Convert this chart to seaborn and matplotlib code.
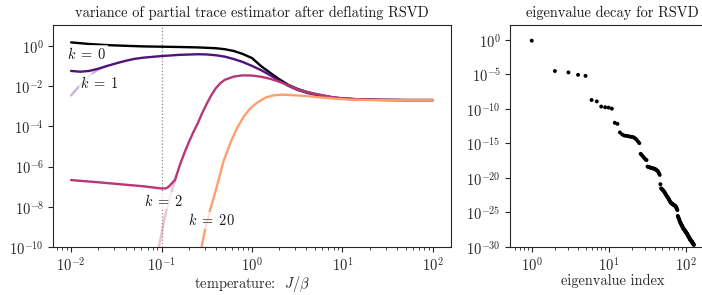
import numpy as np
import pandas as pd
import matplotlib
matplotlib.use("Agg")
import matplotlib.pyplot as plt
import matplotlib.ticker as mticker
import seaborn as sns

# ---------------- data ----------------
# left panel: log10 temperature and log10 variance per curve
k0_logT = [-2.0, -1.8, -1.6, -1.4, -1.2, -1.0, -0.8, -0.6, -0.4, -0.3, -0.2, -0.1, 0.0,
           0.1, 0.2, 0.3, 0.4, 0.5, 0.6, 0.7, 0.8, 0.9, 1.0, 1.2, 1.4, 1.7, 2.0]
k0_logV = [0.18, 0.10, 0.045, 0.01, -0.02, -0.035, -0.05, -0.07, -0.11, -0.16, -0.25, -0.4, -0.6,
           -1.0, -1.33, -1.65, -1.93, -2.13, -2.28, -2.39, -2.48, -2.56, -2.61, -2.66, -2.68, -2.69, -2.69]

k1_logT = [-2.0, -1.9, -1.8, -1.7, -1.6, -1.5, -1.4, -1.3, -1.2, -1.0, -0.8, -0.6, -0.5, -0.4,
           -0.3, -0.2, -0.1, 0.0, 0.1, 0.2, 0.3, 0.4, 0.5, 0.6, 0.7, 0.8, 0.9, 1.0, 1.2, 1.4, 1.7, 2.0]
k1_logV = [-1.24, -1.28, -1.24, -1.13, -0.99, -0.86, -0.74, -0.64, -0.58, -0.50, -0.44, -0.41, -0.42, -0.46,
           -0.53, -0.65, -0.8, -0.99, -1.2, -1.45, -1.72, -1.98, -2.18, -2.32, -2.43, -2.52, -2.58, -2.62, -2.66, -2.68, -2.69, -2.69]
k1f_logT = [-2.0, -1.95, -1.9, -1.85, -1.8, -1.75, -1.7, -1.65, -1.6]
k1f_logV = [-2.46, -2.2, -1.96, -1.72, -1.50, -1.32, -1.18, -1.06, -0.99]

k2_logT = [-2.0, -1.7, -1.4, -1.2, -1.0, -0.95, -0.92, -0.89, -0.852, -0.8, -0.75, -0.7, -0.65,
           -0.6, -0.55, -0.5, -0.45, -0.4, -0.35, -0.3, -0.2, -0.1, 0.0, 0.1, 0.2, 0.3, 0.4, 0.5,
           0.6, 0.7, 0.8, 0.9, 1.0, 1.2, 1.4, 1.7, 2.0]
k2_logV = [-6.67, -6.78, -6.9, -6.98, -7.09, -7.08, -7.0, -6.85, -6.67, -5.95, -5.35, -4.8, -4.3,
           -3.85, -3.33, -2.87, -2.45, -2.1, -1.85, -1.68, -1.52, -1.46, -1.47, -1.53, -1.63, -1.78, -1.95, -2.15,
           -2.28, -2.38, -2.47, -2.55, -2.6, -2.66, -2.68, -2.69, -2.69]
k2f_logT = [-1.045, -1.027, -1.0, -0.963, -0.927, -0.889, -0.86, -0.833]
k2f_logV = [-10.5, -9.95, -9.32, -8.49, -7.83, -7.25, -6.83, -6.45]

k20_logT = [-0.575, -0.556, -0.519, -0.463, -0.389, -0.316, -0.241, -0.167, -0.093, -0.019, 0.056,
            0.148, 0.24, 0.333, 0.426, 0.611, 0.74, 0.907, 1.1, 1.3, 1.6, 2.0]
k20_logV = [-10.6, -9.95, -9.15, -8.16, -7.0, -5.75, -4.84, -4.10, -3.52, -3.10, -2.82,
            -2.57, -2.45, -2.42, -2.44, -2.49, -2.55, -2.62, -2.67, -2.69, -2.70, -2.70]

curve_labels = [r"$k\;=\;0$", r"$k\;=\;1$", r"$k\;=\;2$", r"$k\;=\;20$"]
label_logT = [-1.824, -1.691, -0.98, -0.452]
label_logV = [-0.373, -1.816, -7.69, -8.68]

# right panel: eigenvalue index and log10 eigenvalue
eig_index = list(range(1, 129))
eig_log10 = [-0.1, -4.5, -4.7, -5.05, -5.2, -8.7, -8.9, -9.65, -9.75, -9.8, -9.95, -12.0, -12.15,
             -13.4, -13.7, -13.85, -13.9, -13.95, -14.0, -14.05, -14.1, -14.25, -14.45, -14.7, -14.95,
             -16.5, -16.7, -16.9, -17.1, -17.3, -17.4,
             -18.35, -18.4, -18.45, -18.5, -18.55, -18.58, -18.62, -18.66, -18.7, -18.78, -18.88, -18.98,
             -19.08, -19.3, -19.55,
             -20.9, -21.5, -21.6,
             -21.7, -21.8, -21.9, -22.05, -22.2, -22.35, -22.5, -22.65, -22.75, -22.85, -23.0, -23.15,
             -23.3, -23.45, -23.55, -23.65, -23.7, -23.75, -23.8, -23.85, -23.9, -23.95, -24.0, -24.05,
             -24.1, -24.2, -24.35, -24.5, -24.65,
             -25.5, -25.65, -25.8, -25.95, -26.1, -26.3, -26.42, -26.53, -26.64, -26.75,
             -26.86, -26.97, -27.08, -27.19, -27.3, -27.37, -27.44, -27.51, -27.58, -27.65,
             -27.72, -27.79, -27.86, -27.93, -28.0, -28.08, -28.16, -28.24, -28.32, -28.4,
             -28.48, -28.56, -28.64, -28.72, -28.8, -28.88, -28.94, -29.0, -29.05, -29.1,
             -29.16, -29.22, -29.28, -29.34, -29.4, -29.46, -29.52, -29.58, -29.64, -29.7]

# ---------------- style ----------------
FS = 10.4
sns.set_theme(style="ticks")
plt.rcParams.update({
    "font.family": ["cmr10", "DejaVu Serif"],
    "mathtext.fontset": "cm",
    "axes.formatter.use_mathtext": True,
    "font.size": FS,
    "axes.titlesize": FS,
    "axes.labelsize": FS,
    "xtick.labelsize": FS,
    "ytick.labelsize": FS,
    "axes.edgecolor": "0.15",
    "axes.linewidth": 0.8,
    "xtick.major.size": 3.5,
    "xtick.minor.size": 2.0,
    "ytick.major.size": 3.5,
    "ytick.minor.size": 2.0,
    "xtick.major.width": 0.8,
    "xtick.minor.width": 0.6,
    "ytick.major.width": 0.8,
    "xtick.major.pad": 2.5,
    "ytick.major.pad": 3.0,
    "xtick.color": "0.15",
    "ytick.color": "0.15",
    "text.color": "0.1",
})

cmap = plt.get_cmap("magma")
colors = [cmap(0.0), cmap(0.25), cmap(0.5), cmap(0.8)]

W, H = 702, 295
fig = plt.figure(figsize=(W / 100, H / 100), dpi=100)
ax1 = fig.add_axes([53 / W, 48 / H, 398 / W, 222 / H])
ax2 = fig.add_axes([510 / W, 48 / H, 205.6 / W, 222 / H])


def frame(logT, logV):
    return pd.DataFrame({"T": np.power(10.0, logT), "V": np.power(10.0, logV)})


lw = 1.7
ax1.axvline(0.1, color="0.55", ls=":", lw=0.9, zorder=1)
faded = [(k1f_logT, k1f_logV, colors[1]), (k2f_logT, k2f_logV, colors[2])]
for lt, lv, c in faded:
    sns.lineplot(data=frame(lt, lv), x="T", y="V", ax=ax1, color=c, alpha=0.3, lw=lw,
                 sort=False, estimator=None, zorder=2)
solid = [(k0_logT, k0_logV), (k1_logT, k1_logV), (k2_logT, k2_logV), (k20_logT, k20_logV)]
for (lt, lv), c in zip(solid, colors):
    sns.lineplot(data=frame(lt, lv), x="T", y="V", ax=ax1, color=c, lw=lw,
                 sort=False, estimator=None, zorder=3)

for lab, lt, lv in zip(curve_labels, label_logT, label_logV):
    ax1.text(10 ** lt, 10 ** lv, lab, ha="center", va="center", zorder=5, fontsize=FS,
             bbox=dict(boxstyle="square,pad=0.05", fc="white", ec="none", alpha=0.7))

ax1.set_xscale("log")
ax1.set_yscale("log")
ax1.set_xlim(10 ** -2.2, 10 ** 2.2)
ax1.set_ylim(1e-10, 10 ** 1.045)
ax1.set_xticks([1e-2, 1e-1, 1e0, 1e1, 1e2])
ax1.set_yticks([1e0, 1e-2, 1e-4, 1e-6, 1e-8, 1e-10])
ax1.xaxis.set_minor_locator(mticker.LogLocator(base=10, subs=np.arange(2, 10) * 1.0, numticks=20))
ax1.yaxis.set_minor_locator(mticker.NullLocator())
ax1.set_title("variance of partial trace estimator after deflating RSVD", pad=6)
ax1.set_xlabel("temperature:  $J/\\beta$", labelpad=0.5)
ax1.set_ylabel("")

eig_df = pd.DataFrame({"index": eig_index, "value": np.power(10.0, eig_log10)})
sns.scatterplot(data=eig_df, x="index", y="value", ax=ax2, color="black", s=8,
                linewidth=0, edgecolor="none")
ax2.set_xscale("log")
ax2.set_yscale("log")
ax2.set_xlim(10 ** -0.282, 10 ** 2.389)
ax2.set_ylim(1e-30, 10 ** 2.17)
ax2.set_xticks([1e0, 1e1, 1e2])
ax2.set_yticks([1e0, 1e-5, 1e-10, 1e-15, 1e-20, 1e-25, 1e-30])
ax2.xaxis.set_minor_locator(mticker.LogLocator(base=10, subs=np.arange(2, 10) * 1.0, numticks=20))
ax2.yaxis.set_minor_locator(mticker.NullLocator())
ax2.set_title("eigenvalue decay for RSVD", pad=6)
ax2.set_xlabel("eigenvalue index", labelpad=0.5)
ax2.set_ylabel("")

fig.savefig("out.png", dpi=100)
